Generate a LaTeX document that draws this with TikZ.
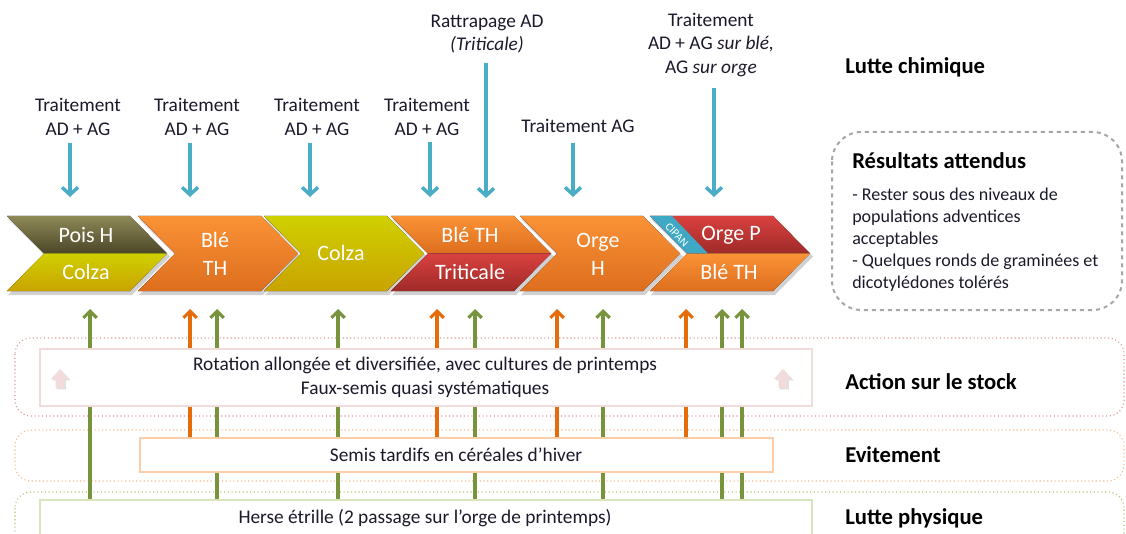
\documentclass[tikz,border=0pt]{standalone}
\usepackage{fontspec}
\setmainfont{Carlito}
\usetikzlibrary{arrows.meta,shadows}
\definecolor{blu}{HTML}{4BACC6}
\definecolor{grn}{HTML}{77933C}
\definecolor{orgA}{HTML}{E46C0A}
\definecolor{olvT}{HTML}{8E8957}
\definecolor{olvB}{HTML}{4A4628}
\definecolor{yelT}{HTML}{CFD000}
\definecolor{yelB}{HTML}{C9A300}
\definecolor{ornT}{HTML}{FA9236}
\definecolor{ornB}{HTML}{DD6E1E}
\definecolor{redT}{HTML}{D9413F}
\definecolor{redB}{HTML}{9E2A28}
\definecolor{cipan}{HTML}{3FA9C5}
\definecolor{bandR}{HTML}{DA9694}
\definecolor{bandO}{HTML}{F9B98A}
\definecolor{bandG}{HTML}{A9C46F}
\definecolor{inR}{HTML}{F2DCDB}
\definecolor{inO}{HTML}{FBCDA8}
\definecolor{inG}{HTML}{D7E4BD}
\definecolor{txt}{HTML}{1A1A2A}
\newcommand{\chevTop}[3]{\fill[top color=#2,bottom color=#3] (#1,216) -- ({#1+123},216) -- ({#1+160},253.5) -- ({#1+37},253.5) -- cycle;}
\newcommand{\chevBot}[3]{\fill[top color=#2,bottom color=#3] ({#1+37},253.5) -- ({#1+160},253.5) -- ({#1+123},291) -- (#1,291) -- cycle;}
\newcommand{\chevAll}[3]{\fill[top color=#2,bottom color=#3] (#1,216) -- ({#1+123},216) -- ({#1+160},253.5) -- ({#1+123},291) -- (#1,291) -- ({#1+37},253.5) -- cycle;}
\newcommand{\chevShadow}[1]{\fill[black,opacity=0.18] ({#1+1},219) -- ({#1+125},219) -- ({#1+163},256.5) -- ({#1+125},295) -- ({#1+1},295) -- ({#1+39},256.5) -- cycle;}
\begin{document}
\begin{tikzpicture}[x=0.75pt,y=-0.75pt,
  lbl/.style={align=center,text=txt,font=\fontsize{14.5}{17.5}\selectfont,inner sep=0pt},
  ctxt/.style={align=center,text=white,font=\fontsize{16.5}{21}\selectfont,inner sep=0pt},
  side/.style={anchor=west,text=black,font=\fontsize{17}{20}\selectfont\bfseries,inner sep=0pt},
  blarrow/.style={draw=blu,line width=2.6pt,-{Straight Barb[length=5.5pt,width=12pt]}},
  garrow/.style={draw=grn,line width=2.3pt,-{Straight Barb[length=5pt,width=10pt]}},
  oarrow/.style={draw=orgA,line width=2.3pt,-{Straight Barb[length=5pt,width=10pt]}},
  inbox/.style={fill=white,line width=0.8pt},
  band/.style={rounded corners=12pt,line width=0.8pt,dotted},
  pinkup/.style={fill=inR,draw=none,drop shadow={opacity=0.25,shadow xshift=1pt,shadow yshift=-1pt}}
]
\useasboundingbox (0,0) rectangle (1126,534);
\fill[white] (0,0) rectangle (1126,534);

% ---- chevrons ----
\foreach \x in {7,138,264,391,520,650}{\chevShadow{\x}}
\chevTop{7}{olvT}{olvB}
\chevBot{7}{yelT}{yelB}
\chevAll{138}{ornT}{ornB}
\chevAll{264}{yelT}{yelB}
\chevTop{391}{ornT}{ornB}
\chevBot{391}{redT}{redB}
\chevAll{520}{ornT}{ornB}
\chevTop{650}{redT}{redB}
\chevBot{650}{ornT}{ornB}
\fill[cipan] (650,216) -- (672,216) -- (708,253.5) -- (687,253.5) -- cycle;
\node[text=white,font=\fontsize{8.5}{9}\selectfont,rotate=-46,inner sep=0pt] (cip) at (677,235) {CIPAN};

\node[ctxt] (c1a) at (86,235) {Pois H};
\node[ctxt] (c1b) at (86,272) {Colza};
\node[ctxt] (c2) at (215,254) {Blé\\TH};
\node[ctxt] (c3) at (341,253) {Colza};
\node[ctxt] (c4a) at (470,235) {Blé TH};
\node[ctxt] (c4b) at (470,272) {Triticale};
\node[ctxt] (c5) at (598,254) {Orge\\H};
\node[ctxt] (c6a) at (731,235) {Orge P};
\node[ctxt] (c6b) at (729,272) {Blé TH};

% ---- top labels and blue arrows ----
\node[lbl] (t1) at (78,117) {Traitement\\AD + AG};
\node[lbl] (t2) at (197,117) {Traitement\\AD + AG};
\node[lbl] (t3) at (317,117) {Traitement\\AD + AG};
\node[lbl] (t4) at (427,117) {Traitement\\AD + AG};
\node[lbl] (t5) at (487,34) {Rattrapage AD\\\textit{(Triticale)}};
\node[lbl] (t6) at (578,126) {Traitement AG};
\node[lbl] (t7) at (711,45) {Traitement\\AD + AG \textit{sur blé,}\\AG \textit{sur orge}};

\coordinate (a1s) at (70,143);  \coordinate (a1e) at (70,197);
\coordinate (a2s) at (190,143); \coordinate (a2e) at (190,197);
\coordinate (a3s) at (310,143); \coordinate (a3e) at (310,197);
\coordinate (a4s) at (430,142); \coordinate (a4e) at (430,197);
\coordinate (a5s) at (486,63);  \coordinate (a5e) at (486,198);
\coordinate (a6s) at (573,143); \coordinate (a6e) at (573,197);
\coordinate (a7s) at (714,88);  \coordinate (a7e) at (714,197);
\foreach \i in {1,...,7}{\draw[blarrow] (a\i s) -- (a\i e);}

% ---- right side ----
\node[side] (lc) at (845,67) {Lutte chimique};
\draw[rounded corners=22pt,dashed,draw=black!35,line width=1.5pt] (832,132) rectangle (1122,310);
\node[side] (ra) at (852,161) {Résultats attendus};
\node[anchor=north west,align=left,text=txt,font=\fontsize{13.5}{16.5}\selectfont,inner sep=0pt] (rb) at (852,188)
  {- Rester sous des niveaux de\\populations adventices\\acceptables\\- Quelques ronds de graminées et\\dicotylédones tolérés};

% ---- bands ----
\draw[band,draw=bandR] (15,338) rectangle (1124,416);
\draw[band,draw=bandO] (15,430) rectangle (1124,481);
\draw[band,draw=bandG] (15,492) rectangle (1124,548);

% ---- upward arrows ----
\foreach \x [count=\i] in {90,217,338,475,603,722,742}{
  \coordinate (gs\i) at (\x,520); \coordinate (ge\i) at (\x,309);
  \draw[garrow] (gs\i) -- (ge\i);}
\foreach \x [count=\i] in {190,437,557,686}{
  \coordinate (os\i) at (\x,455); \coordinate (oe\i) at (\x,309);
  \draw[oarrow] (os\i) -- (oe\i);}

% ---- inner boxes ----
\draw[inbox,draw=inR] (40,349) rectangle (812,406);
\node[lbl] (rot) at (425,377.5) {Rotation allongée et diversifiée, avec cultures de printemps\\Faux-semis quasi systématiques};
\draw[pinkup] (51,379) -- (60,369) -- (69,379) -- (64.5,379) -- (64.5,388) -- (55.5,388) -- (55.5,379) -- cycle;
\draw[pinkup] (774,379) -- (783,369) -- (792,379) -- (787.5,379) -- (787.5,388) -- (778.5,388) -- (778.5,379) -- cycle;
\node[side] (as) at (845,382) {Action sur le stock};

\draw[inbox,draw=inO] (140,438) rectangle (773,472);
\node[lbl] (sem) at (456,455) {Semis tardifs en céréales d’hiver};
\node[side] (ev) at (845,455) {Evitement};

\draw[inbox,draw=inG] (40,500) rectangle (812,548);
\node[lbl] (hs) at (425,518) {Herse étrille (2 passage sur l’orge de printemps)};
\node[side] (lp) at (845,518) {Lutte physique};
\end{tikzpicture}
\end{document}
